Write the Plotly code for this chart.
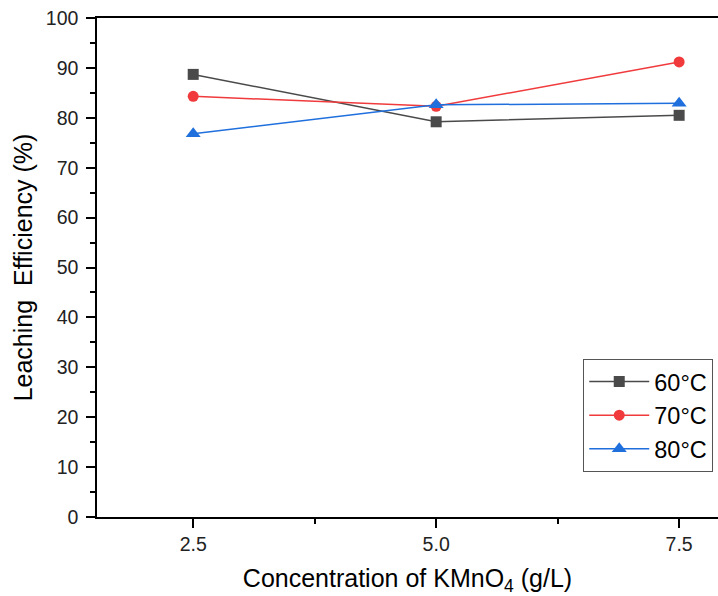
import plotly.graph_objects as go

conc = [2.5, 5.0, 7.5]
eff_60 = [88.7, 79.2, 80.5]
eff_70 = [84.3, 82.3, 91.2]
eff_80 = [76.8, 82.6, 82.9]
series_names = ["60°C", "70°C", "80°C"]
x_ticks = [2.5, 5.0, 7.5]
x_tick_labels = ["2.5", "5.0", "7.5"]
y_ticks = [0, 10, 20, 30, 40, 50, 60, 70, 80, 90, 100]

colors = ["#4a4a4a", "#f03a3c", "#1f6fdd"]
symbols = ["square", "circle", "triangle-up"]

fig = go.Figure()
for name, ys, c, s in zip(series_names, [eff_60, eff_70, eff_80], colors, symbols):
    fig.add_trace(go.Scatter(
        x=conc, y=ys, name=name, mode="lines+markers",
        line=dict(color=c, width=1.5),
        marker=dict(symbol=s, size=11 if s != "triangle-up" else 13, color=c),
    ))

fig.update_layout(
    width=718, height=596,
    margin=dict(l=97, r=0, t=18, b=79, autoexpand=False),
    plot_bgcolor="white", paper_bgcolor="white",
    font=dict(family="Liberation Sans", color="black", size=18),
    showlegend=True,
    legend=dict(
        x=0.783, y=0.317, xanchor="left", yanchor="top",
        bordercolor="#555555", borderwidth=1, bgcolor="white",
        font=dict(family="Liberation Sans", size=23.5, color="black"),
        itemwidth=60, tracegroupgap=0,
    ),
    xaxis=dict(
        range=[1.51, 7.9],
        tickvals=x_ticks, ticktext=x_tick_labels,
        ticks="outside", ticklen=9, tickwidth=1.5, tickcolor="black",
        showline=True, linecolor="black", linewidth=1.5, mirror=True,
        showgrid=False, zeroline=False, automargin=False,
        tickfont=dict(family="Liberation Sans", size=19.5, color="#222222"),
        minor=dict(dtick=1.25, tick0=0, ticks="outside", ticklen=5, tickwidth=1.5, tickcolor="black", showgrid=False),
        title=dict(text="Concentration of KMnO<sub>4</sub> (g/L)",
                   font=dict(family="Liberation Sans", size=25, color="black"), standoff=18),
    ),
    yaxis=dict(
        range=[0, 100],
        tickvals=y_ticks,
        ticks="outside", ticklen=9, tickwidth=1.5, tickcolor="black",
        showline=True, linecolor="black", linewidth=1.5,
        showgrid=False, zeroline=False, automargin=False,
        ticklabelstandoff=4,
        tickfont=dict(family="Liberation Sans", size=19.5, color="#222222"),
        minor=dict(dtick=5, tick0=0, ticks="outside", ticklen=5, tickwidth=1.5, tickcolor="black", showgrid=False),
        title=dict(text="Leaching  Efficiency (%)",
                   font=dict(family="Liberation Sans", size=25, color="black"), standoff=6),
    ),
)

fig.write_html("out.html", config={"displayModeBar": False},
               post_script="document.body.style.margin='0';")
